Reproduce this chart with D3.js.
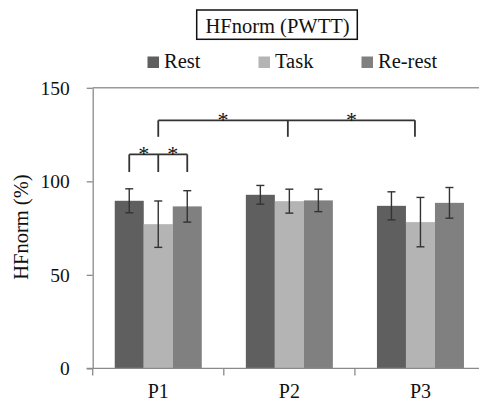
<!DOCTYPE html>
<html>
<head>
<meta charset="utf-8">
<script src="https://cdn.jsdelivr.net/npm/d3@7"></script>
<style>
  html, body { margin: 0; padding: 0; background: #fff; }
  svg { display: block; }
  svg text { font-family: "Liberation Serif", "Times New Roman", serif !important; }
</style>
</head>
<body>
<svg id="chart" width="479" height="401"></svg>
<script>
// Phases on the x axis, conditions within each phase
const categories = ["P1", "P2", "P3"];
const series = ["Rest", "Task", "Re-rest"];
const seriesColors = ["#5f5f5f", "#b4b4b4", "#808080"];

// Mean HFnorm (%) per condition, one array per series (P1, P2, P3)
const restValues   = [89.6, 92.8, 86.9];
const taskValues   = [77.1, 89.4, 78.2];
const rerestValues = [86.6, 89.8, 88.5];

// Error half-widths (SD)
const restErrors   = [6.4, 5.0, 7.5];
const taskErrors   = [12.4, 6.4, 13.2];
const rerestErrors = [8.4, 6.0, 8.2];

const yTicks = [0, 50, 100, 150];

const title = "HFnorm (PWTT)";
const yLabel = "HFnorm (%)";

// Significance brackets: legs at [category, series|null, nudge px]; bar level and leg end in axis units
const brackets = [
  { legs: [["P1", "Rest", 0], ["P1", "Task", 0], ["P1", "Re-rest", 0]], level: 114.4, legEnd: 105.0 },
  { legs: [["P1", null, 0], ["P2", null, -1.5], ["P3", null, -5.5]], level: 132.6, legEnd: 123.8 }
];

const valuesBySeries = [restValues, taskValues, rerestValues];
const errorsBySeries = [restErrors, taskErrors, rerestErrors];
const rows = [];
categories.forEach((c, i) => {
  series.forEach((s, j) => {
    rows.push({ cat: c, ser: s, value: valuesBySeries[j][i], err: errorsBySeries[j][i], color: seriesColors[j] });
  });
});

const svg = d3.select("#chart");
const serif = "Liberation Serif";
const plot = { left: 92.7, right: 486, top: 87.8, bottom: 368.4 };

const x = d3.scaleBand().domain(categories).range([plot.left, plot.right]).paddingInner(0).paddingOuter(0);
const xSub = d3.scaleBand().domain(series).range([0, x.bandwidth()]).paddingInner(0).paddingOuter(0.76);
const y = d3.scaleLinear().domain([0, 150]).range([plot.bottom, plot.top]);

const axisColor = "#8a8a8a";
const ink = "#333";

// Bars
svg.append("g").selectAll("rect").data(rows).join("rect")
  .attr("x", d => x(d.cat) + xSub(d.ser))
  .attr("y", d => y(d.value))
  .attr("width", xSub.bandwidth())
  .attr("height", d => y(0) - y(d.value))
  .attr("fill", d => d.color);

// Error bars
const eb = svg.append("g").attr("stroke", ink).attr("stroke-width", 1.4);
rows.forEach(d => {
  const cx = x(d.cat) + xSub(d.ser) + xSub.bandwidth() / 2;
  const y1 = y(d.value + d.err), y2 = y(d.value - d.err);
  eb.append("line").attr("x1", cx).attr("x2", cx).attr("y1", y1).attr("y2", y2);
  eb.append("line").attr("x1", cx - 4).attr("x2", cx + 4).attr("y1", y1).attr("y2", y1);
  eb.append("line").attr("x1", cx - 4).attr("x2", cx + 4).attr("y1", y2).attr("y2", y2);
});

// Top frame line at the axis maximum
svg.append("line")
  .attr("x1", plot.left).attr("x2", plot.right)
  .attr("y1", y(150)).attr("y2", y(150))
  .attr("stroke", "#9a9a9a").attr("stroke-width", 1.5);

// Y axis
const yAxis = svg.append("g")
  .attr("transform", `translate(${plot.left},0)`)
  .call(d3.axisLeft(y).tickValues(yTicks).tickSize(6).tickSizeOuter(0).tickPadding(17));
yAxis.attr("font-family", serif).attr("font-size", 19.5);
yAxis.select(".domain").attr("stroke", axisColor).attr("stroke-width", 1.3);
yAxis.selectAll(".tick line").attr("stroke", axisColor).attr("stroke-width", 1.3);
yAxis.selectAll(".tick text").attr("fill", "#111");

// X axis: category separators as ticks
const xAxisG = svg.append("g").attr("transform", `translate(0,${plot.bottom})`);
xAxisG.append("line")
  .attr("x1", plot.left - 6).attr("x2", plot.right)
  .attr("stroke", axisColor).attr("stroke-width", 1.3);
xAxisG.selectAll("line.sep").data(categories).join("line")
  .attr("class", "sep")
  .attr("x1", d => x(d)).attr("x2", d => x(d))
  .attr("y1", 0).attr("y2", 7)
  .attr("stroke", axisColor).attr("stroke-width", 1.3);
xAxisG.selectAll("text").data(categories).join("text")
  .attr("x", d => x(d) + x.bandwidth() / 2)
  .attr("y", 29.6)
  .attr("text-anchor", "middle")
  .attr("font-family", serif).attr("font-size", 20).attr("fill", "#111")
  .text(d => d);

// Y axis title
svg.append("text")
  .attr("transform", `translate(28,${(plot.top + plot.bottom) / 2 - 1}) rotate(-90)`)
  .attr("text-anchor", "middle")
  .attr("font-family", serif).attr("font-size", 20.5).attr("fill", "#111")
  .text(yLabel);

// Significance brackets
const legX = ([c, s, n]) => (s === null
  ? x(c) + x.bandwidth() / 2
  : x(c) + xSub(s) + xSub.bandwidth() / 2) + n;
const bg = svg.append("g").attr("stroke", ink).attr("stroke-width", 1.8).attr("fill", "none");
brackets.forEach(b => {
  const xs = b.legs.map(legX);
  bg.append("line").attr("x1", xs[0]).attr("x2", xs[xs.length - 1])
    .attr("y1", y(b.level)).attr("y2", y(b.level));
  xs.forEach(xx => bg.append("line").attr("x1", xx).attr("x2", xx)
    .attr("y1", y(b.level)).attr("y2", y(b.legEnd)));
  for (let i = 0; i < xs.length - 1; i++) {
    svg.append("text")
      .attr("x", (xs[i] + xs[i + 1]) / 2)
      .attr("y", y(b.level) + 7)
      .attr("text-anchor", "middle")
      .attr("font-family", serif).attr("font-size", 22).attr("fill", "#111")
      .text("*");
  }
});

// Title in a box
const tg = svg.append("g");
tg.append("rect").attr("x", 196.7).attr("y", 10).attr("width", 160.6).attr("height", 29.3)
  .attr("fill", "#fff").attr("stroke", "#111").attr("stroke-width", 1.5);
tg.append("text").attr("x", 277.5).attr("y", 32.6).attr("text-anchor", "middle")
  .attr("font-family", serif).attr("font-size", 20.5).attr("fill", "#111").text(title);

// Legend
const legendX = [147.5, 258.5, 361.5];
const lg = svg.append("g").selectAll("g").data(series).join("g")
  .attr("transform", (d, i) => `translate(${legendX[i]},0)`);
lg.append("rect").attr("x", 0).attr("y", 56.5).attr("width", 11.5).attr("height", 11.5)
  .attr("fill", (d, i) => seriesColors[i]);
lg.append("text").attr("x", 16.5).attr("y", 68.3)
  .attr("font-family", serif).attr("font-size", 20.5).attr("fill", "#111").text(d => d);
</script>
</body>
</html>
